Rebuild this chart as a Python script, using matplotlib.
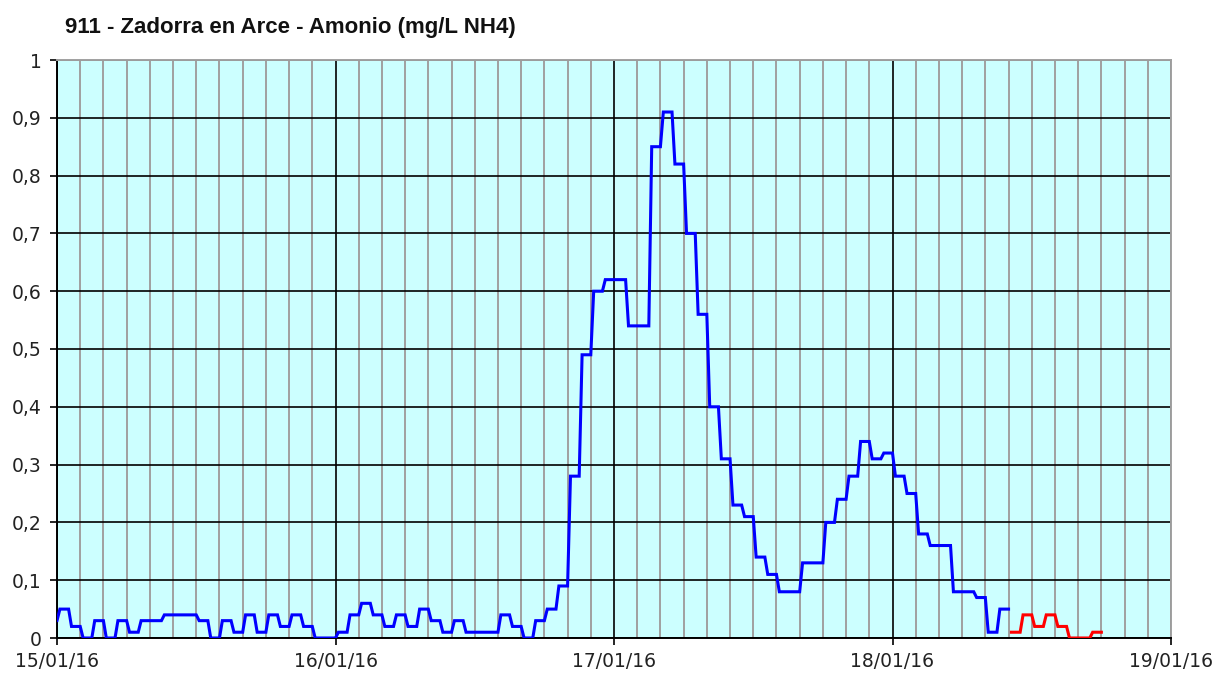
import numpy as np
import matplotlib
matplotlib.use("Agg")
import matplotlib.pyplot as plt
import matplotlib.dates as mdates
from matplotlib.ticker import FuncFormatter, MultipleLocator
from datetime import datetime, timedelta

title = "911 - Zadorra en Arce - Amonio (mg/L NH4)"
start = datetime(2016, 1, 15)
end = datetime(2016, 1, 19)

# hourly readings (hours since 15/01/16 00:00)
blue_hours = list(range(0, 83))
blue_vals = [0.03, 0.05, 0.02, 0.00, 0.03, 0.00, 0.03, 0.01, 0.03, 0.03,
             0.04, 0.04, 0.04, 0.03, 0.00, 0.03, 0.01, 0.04, 0.01, 0.04,
             0.02, 0.04, 0.02, 0.00, 0.00, 0.01, 0.04, 0.06, 0.04, 0.02,
             0.04, 0.02, 0.05, 0.03, 0.01, 0.03, 0.01, 0.01, 0.01, 0.04,
             0.02, 0.00, 0.03, 0.05, 0.09, 0.28, 0.49, 0.60, 0.62, 0.62,
             0.54, 0.54, 0.85, 0.91, 0.82, 0.70, 0.56, 0.40, 0.31, 0.23,
             0.21, 0.14, 0.11, 0.08, 0.08, 0.13, 0.13, 0.20, 0.24, 0.28,
             0.34, 0.31, 0.32, 0.28, 0.25, 0.18, 0.16, 0.16, 0.08, 0.08,
             0.07, 0.01, 0.05]
red_hours = list(range(83, 91))
red_vals = [0.01, 0.04, 0.02, 0.04, 0.02, 0.00, 0.00, 0.01]


def expand(hours, vals):
    xs, ys = [], []
    for h, v in zip(hours, vals):
        for dh in (-0.75, 0.0):
            xs.append(mdates.date2num(start + timedelta(hours=h + dh)))
            ys.append(v)
    return xs, ys


fig = plt.figure(figsize=(12.17, 6.73), dpi=100)
ax = fig.add_axes([57 / 1217, 1 - 638 / 673, (1171 - 57) / 1217, (638 - 60) / 673])
ax.set_facecolor("#CCFFFF")

bx, by = expand(blue_hours, blue_vals)
rx, ry = expand(red_hours, red_vals)
ax.plot(bx, by, color="#0000FF", lw=2.2, solid_joinstyle="miter", zorder=3)
ax.plot(rx, ry, color="#FF0000", lw=2.2, solid_joinstyle="miter", zorder=3)

ax.set_xlim(mdates.date2num(start), mdates.date2num(end))
ax.set_ylim(0, 1)
ax.xaxis.set_major_locator(mdates.DayLocator())
ax.xaxis.set_major_formatter(mdates.DateFormatter("%d/%m/%y"))
ax.xaxis.set_minor_locator(mdates.HourLocator(byhour=range(0, 24, 2)))
ax.yaxis.set_major_locator(MultipleLocator(0.1))
ax.yaxis.set_major_formatter(FuncFormatter(
    lambda v, p: "0" if abs(v) < 1e-9 else ("1" if abs(v - 1) < 1e-9 else f"{v:.1f}".replace(".", ","))))

ax.grid(which="minor", axis="x", color="#A0A0A0", lw=1.4, zorder=1)
ax.grid(which="major", axis="x", color="black", lw=1.2, zorder=2)
ax.grid(which="major", axis="y", color="black", lw=1.2, zorder=2)
ax.set_axisbelow(True)

for s in ("top", "right"):
    ax.spines[s].set_color("#A0A0A0")
    ax.spines[s].set_linewidth(1.4)
for s in ("left", "bottom"):
    ax.spines[s].set_color("black")
    ax.spines[s].set_linewidth(1.4)

ax.tick_params(axis="both", which="major", length=5, width=1.2, color="black",
               labelsize=13.5, labelcolor="#222222")
ax.tick_params(axis="y", which="major", pad=6)
ax.tick_params(axis="x", which="minor", length=0)
ax.tick_params(axis="x", which="major", pad=5)
for lab in ax.get_xticklabels() + ax.get_yticklabels():
    lab.set_fontfamily("DejaVu Sans")

fig.text(65 / 1217, 1 - 28 / 673, title, fontsize=16, fontweight="bold",
         family="Liberation Sans", ha="left", va="center", color="#111111")

fig.savefig("out.png", dpi=100, facecolor="white")
